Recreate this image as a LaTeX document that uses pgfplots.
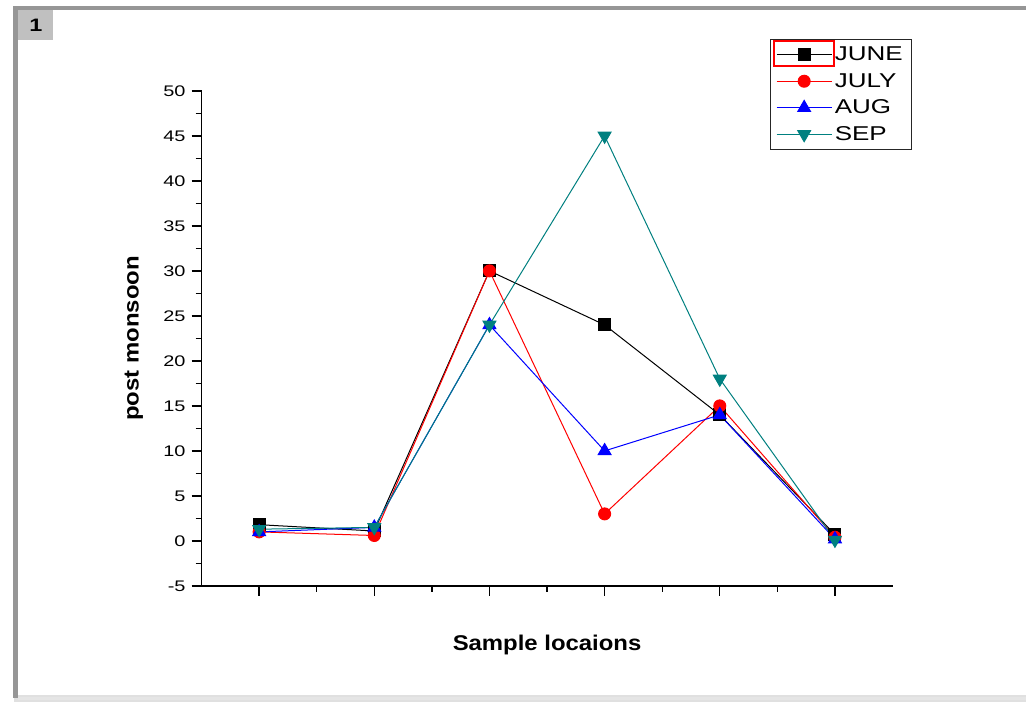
\documentclass[border=0pt]{standalone}
\usepackage{fontspec}
\setmainfont{Liberation Sans}[FakeStretch=1.3]
\newfontfamily\labelfont{Liberation Sans}[FakeStretch=1.12]
\usepackage{pgfplots}
\pgfplotsset{compat=1.18}
\definecolor{septeal}{RGB}{0,128,128}
\definecolor{framegray}{RGB}{150,150,150}
\definecolor{boxgray}{RGB}{192,192,192}

\begin{document}
\begin{tikzpicture}[x=0.75pt,y=0.75pt]
  \useasboundingbox (0,0) rectangle (1026,702);
  % window frame of the screenshot
  \fill[white] (0,0) rectangle (1026,702);
  \fill[black!12] (14,0) rectangle (1026,7);
  \fill[framegray] (14,692) rectangle (1026,696);
  \fill[framegray] (13,4) rectangle (18,696);
  \fill[black!10] (18,2) rectangle (1026,5);
  \fill[boxgray] (18,662) rectangle (53,692);
  \node[font=\fontsize{13.5}{15}\selectfont\bfseries] at (36,677) {1};

  \begin{axis}[
    at={(175,129)}, anchor=south west,
    scale only axis,
    width=518.25pt, height=371.25pt,
    xmin=0.5, xmax=6.5, ymin=-5, ymax=50,
    xtick={1,2,3,4,5,6}, xticklabels={},
    ytick={-5,0,5,10,15,20,25,30,35,40,45,50},
    minor x tick num=1, minor y tick num=1,
    axis x line*=bottom, axis y line*=left,
    axis line style={-, line width=1.2pt},
    tick style={line width=1pt, black},
    tick align=outside,
    major tick length=7.5pt, minor tick length=4.5pt,
    /pgf/number format/assume math mode=true,
    yticklabel style={font=\fontsize{11.5}{13}\selectfont, xshift=-1pt},
    xlabel={\labelfont\bfseries Sample locaions},
    ylabel={\labelfont\bfseries post monsoon},
    label style={font=\fontsize{16}{18}\selectfont},
    xlabel style={at={(axis description cs:0.5,-0.119)}, anchor=center},
    ylabel style={at={(axis description cs:-0.098,0.5)}, anchor=center},
    legend style={at={(rel axis cs:0.822,1.105)}, anchor=north west,
      draw=black!85, line width=1pt,
      font=\fontsize{15}{17}\selectfont,
      row sep=4pt, inner xsep=4.5pt, inner ysep=3.5pt},
    legend cell align=left,
    legend image code/.code={
      \draw[#1, mark repeat=2, mark phase=2]
        plot coordinates {(0pt,0pt) (20.6pt,0pt) (41.2pt,0pt)};},
  ]
    \addplot[black, line width=0.75pt, mark=square*, mark size=4.5pt,
      mark options={solid}]
      coordinates {(1,1.8) (2,1.1) (3,30) (4,24) (5,14) (6,0.7)};
    \addlegendentry{JUNE}
    \addplot[red, line width=0.75pt, mark=*, mark size=4.5pt]
      coordinates {(1,1.0) (2,0.6) (3,30) (4,3) (5,15) (6,0.4)};
    \addlegendentry{JULY}
    \addplot[blue, line width=0.75pt, mark=triangle*, mark size=5.5pt]
      coordinates {(1,1.0) (2,1.5) (3,24) (4,10) (5,14) (6,0.2)};
    \addlegendentry{AUG}
    \addplot[septeal, line width=0.75pt, mark=triangle*, mark size=5.5pt,
      mark options={rotate=180}]
      coordinates {(1,1.3) (2,1.5) (3,24) (4,45) (5,18) (6,0.1)};
    \addlegendentry{SEP}
  \end{axis}
  % selection outline around the first legend entry
  \draw[red, line width=0.8pt] (774,661) rectangle (834,636);
\end{tikzpicture}
\end{document}
